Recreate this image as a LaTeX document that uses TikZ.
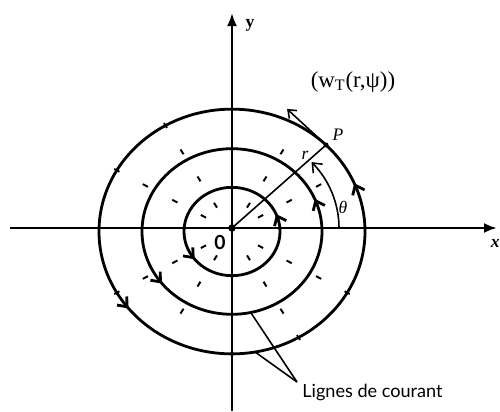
\documentclass[tikz,border=0pt]{standalone}
\usepackage{fontspec}
\setmainfont{Liberation Serif}
\newfontfamily\lignesfont{Lato}
\usetikzlibrary{arrows.meta, decorations.markings, calc}
\tikzset{
    axis_line/.style={line width=1.4pt, -{Latex[length=2.6mm, width=2mm]}},
    stream_line/.style={line width=1.6pt, postaction={decorate},
        decoration={markings,
            mark=at position 0.062 with {\arrow{Straight Barb[length=1.6mm, width=2.6mm]}},
            mark=at position 0.605 with {\arrow{Straight Barb[length=1.6mm, width=2.6mm]}}}},
    tick_mark/.style={line width=1.1pt},
    thin_line/.style={line width=0.9pt},
    label_text/.style={font=\fontsize{10}{12}\selectfont, inner sep=0pt}
}

\begin{document}
\begin{tikzpicture}

    \useasboundingbox (-4.64,-3.66) rectangle (5.36,4.56);

    % Axes
    \coordinate (O) at (0,0);
    \coordinate (C) at (0,-0.07);
    \draw[axis_line] (-4.44,0) -- (5.30,0);
    \draw[axis_line] (0,-3.66) -- (0,4.30);
    \node[label_text, anchor=east] (xlab) at (5.36,-0.30) {\textbf{\textit{x}}};
    \node[label_text] (ylab) at (0.36,4.06) {\textbf{y}};
    \node[label_text, font=\lignesfont\bfseries\fontsize{11}{13}\selectfont] (zero) at (-0.24,-0.30) {0};

    % Streamlines
    \begin{scope}[shift={(C)}, yscale=0.92]
        \draw[stream_line] (0,0) circle (0.96);
        \draw[stream_line] (0,0) circle (1.80);
        \draw[stream_line] (0,0) circle (2.66);

        % Ticks
        \foreach \a in {30,60,120,150,210,240,300,330} {
            \draw[tick_mark] (\a:0.60) -- (\a:0.72);
            \draw[tick_mark] (\a:1.26) -- (\a:1.38);
            \draw[tick_mark] (\a:1.94) -- (\a:2.06);
        }
        \foreach \a in {120,150,210,300,330}
            \draw[tick_mark] (\a:2.60) -- (\a:2.72);

        \coordinate (P) at (45:2.66);
        \coordinate (m1) at (-78:1.80);
        \coordinate (m2) at (-80:2.66);
    \end{scope}

    % Radius, point P and angle
    \draw[thin_line] (O) -- (P);
    \fill (O) circle (0.075);
    \fill (P) circle (0.05);
    \coordinate (T) at ($(P)+(-0.78,0.72)$);
    \draw[thin_line, -{Straight Barb[length=1.4mm, width=2.2mm]}] (P) -- (T);
    \draw[thin_line, -{Straight Barb[length=1.6mm, width=2.6mm]}]
        (2.14,0) arc[start angle=0, end angle=42, x radius=2.14, y radius=1.97];

    % Labels
    \node[label_text] (Plab) at (2.12,1.86) {\textit{P}};
    \node[label_text] (rlab) at (1.46,1.46) {\textit{r}};
    \node[label_text] (thlab) at (2.22,0.42) {\textit{θ}};
    \node[label_text, font=\fontsize{13}{15}\selectfont] (wlab) at (2.42,2.92)
    {(w\textsubscript{T}(r,ψ))};

    \node[label_text, anchor=base west, font=\lignesfont\fontsize{10.3}{12}\selectfont]
    (lignes) at (1.40,-3.38) {Lignes de courant};
    \coordinate (L) at (1.30,-3.08);
    \draw[thin_line] (m1) -- (L);
    \draw[thin_line] (m2) -- (L);

\end{tikzpicture}
\end{document}
